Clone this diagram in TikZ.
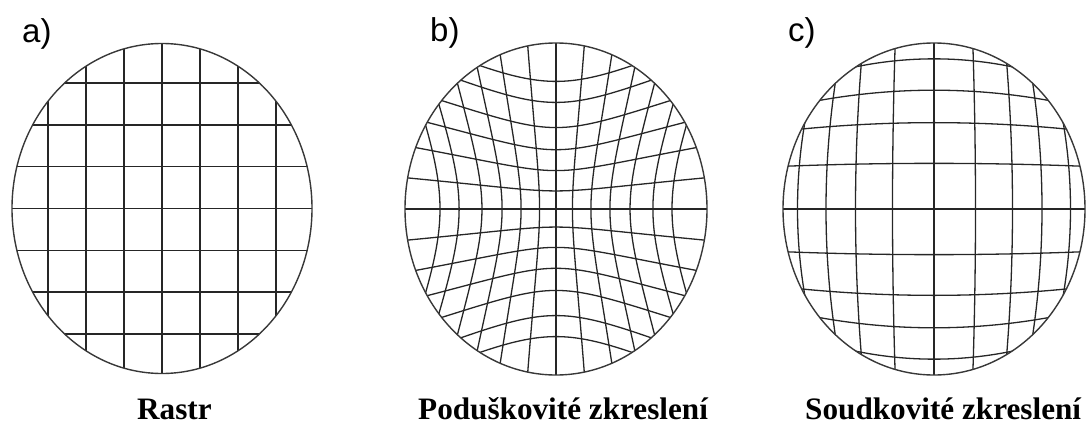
\documentclass[tikz,border=0pt]{standalone}
\usepackage{fontspec}
\setmainfont{Liberation Serif}
\newfontfamily\labfont{Liberation Sans}
\begin{document}
\begin{tikzpicture}[x=1pt,y=-1pt,
  gridline/.style={line width=1.3pt, draw=black!85},
  rim/.style={line width=1.4pt, draw=black!78},
  caption/.style={font=\fontsize{31.2}{36}\selectfont\bfseries, anchor=base west, inner sep=0pt},
  tag/.style={font=\labfont\fontsize{33}{38}\selectfont, anchor=base west, inner sep=0pt}]
\useasboundingbox (0,0) rectangle (1087,425);

% ---------- a) raster ----------
\begin{scope}[xshift=162pt, yshift=-208.5pt, x=100pt, y=-110pt]
  \begin{scope}
    \clip (0,0) ellipse [x radius=150pt, y radius=165pt];
    \foreach \k in {-3,...,3} {
      \draw[gridline] ({0.38*\k},-1.6) -- ({0.38*\k},1.6);
      \draw[gridline] (-1.6,{0.38*\k}) -- (1.6,{0.38*\k});
    }
  \end{scope}
  \draw[rim] (0,0) ellipse [x radius=150pt, y radius=165pt];
\end{scope}

% ---------- b) pincushion ----------
\begin{scope}[xshift=556pt, yshift=-209pt, x=100pt, y=-110pt]
  \begin{scope}
    \clip (0,0) ellipse [x radius=151pt, y radius=166pt];
    \foreach \u in {-0.738,-0.663,-0.558,-0.446,-0.316,-0.16,0,0.16,0.316,0.446,0.558,0.663,0.738} {
      \pgfmathsetmacro\tm{sqrt(max(0.7242-(\u)*(\u),0))+0.04}
      \draw[gridline] plot[domain=-\tm:\tm, samples=60, smooth, variable=\t]
        ({(\u)*(1+1.05*((\u)*(\u)+(\t)*(\t)))},{(\t)*(1+1.05*((\u)*(\u)+(\t)*(\t)))});
      \draw[gridline] plot[domain=-\tm:\tm, samples=60, smooth, variable=\t]
        ({(\t)*(1+1.05*((\u)*(\u)+(\t)*(\t)))},{(\u)*(1+1.05*((\u)*(\u)+(\t)*(\t)))});
    }
  \end{scope}
  \draw[rim] (0,0) ellipse [x radius=151pt, y radius=166pt];
\end{scope}

% ---------- c) barrel ----------
\begin{scope}[xshift=934pt, yshift=-209pt, x=100pt, y=-110pt]
  \begin{scope}
    \clip (0,0) ellipse [x radius=151pt, y radius=166pt];
    \draw[gridline] (0,-1.6) -- (0,1.6);
    \draw[gridline] (-1.6,0) -- (1.6,0);
    \foreach \p/\ye/\xe in {0.415/0.39/1.448, 0.785/0.728/1.311, 1.08/0.99/1.127, 1.365/1.298/0.752} {
      \pgfmathsetmacro\lo{-\xe-0.12}
      \pgfmathsetmacro\hi{\xe+0.12}
      \foreach \s in {-1,1} {
        \draw[gridline] plot[domain=\lo:\hi, samples=40, smooth, variable=\t]
          ({\t},{\s*(\p-(\p-\ye)*(\t/\xe)*(\t/\xe))});
        \draw[gridline] plot[domain=\lo:\hi, samples=40, smooth, variable=\t]
          ({\s*(\p-(\p-\ye)*(\t/\xe)*(\t/\xe))},{\t});
      }
    }
  \end{scope}
  \draw[rim] (0,0) ellipse [x radius=151pt, y radius=166pt];
\end{scope}

% ---------- labels ----------
\node[tag] (la) at (22,43) {a)};
\node[tag] (lb) at (430,42) {b)};
\node[tag] (lc) at (788,42) {c)};

\node[caption] (ca) at (137,419) {Rastr};
\node[caption] (cb) at (418,419) {Poduškovité zkreslení};
\node[caption] (cc) at (805,419) {Soudkovité zkreslení};
\end{tikzpicture}
\end{document}
